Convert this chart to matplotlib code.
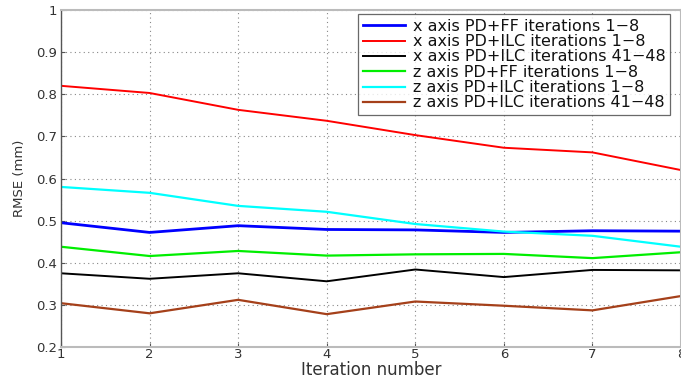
import matplotlib
matplotlib.use("Agg")
import matplotlib.pyplot as plt

plt.rcParams['font.family'] = ['DejaVu Sans']

iterations = [1, 2, 3, 4, 5, 6, 7, 8]

x_pdff_1_8 = [0.495, 0.472, 0.488, 0.479, 0.478, 0.472, 0.476, 0.475]
x_pdilc_1_8 = [0.820, 0.803, 0.763, 0.737, 0.703, 0.673, 0.662, 0.620]
x_pdilc_41_48 = [0.375, 0.362, 0.375, 0.356, 0.384, 0.366, 0.383, 0.382]
z_pdff_1_8 = [0.438, 0.416, 0.428, 0.417, 0.420, 0.421, 0.411, 0.425]
z_pdilc_1_8 = [0.580, 0.566, 0.535, 0.521, 0.492, 0.474, 0.464, 0.438]
z_pdilc_41_48 = [0.304, 0.280, 0.312, 0.278, 0.308, 0.298, 0.287, 0.321]

series = [
    ("x axis PD+FF iterations 1\u22128", x_pdff_1_8, "#0000ff", 2.0),
    ("x axis PD+ILC iterations 1\u22128", x_pdilc_1_8, "#ff0000", 1.4),
    ("x axis PD+ILC iterations 41\u221248", x_pdilc_41_48, "#000000", 1.4),
    ("z axis PD+FF iterations 1\u22128", z_pdff_1_8, "#00ee00", 1.6),
    ("z axis PD+ILC iterations 1\u22128", z_pdilc_1_8, "#00ffff", 1.6),
    ("z axis PD+ILC iterations 41\u221248", z_pdilc_41_48, "#a5401a", 1.6),
]

y_ticks = [0.2, 0.3, 0.4, 0.5, 0.6, 0.7, 0.8, 0.9, 1.0]
y_tick_labels = ["0.2", "0.3", "0.4", "0.5", "0.6", "0.7", "0.8", "0.9", "1"]

fig = plt.figure(figsize=(6.81, 3.80), dpi=100)
ax = fig.add_axes([0.0896, 0.0868, 0.9104, 0.8869])

for label, vals, color, lw in series:
    ax.plot(iterations, vals, color=color, lw=lw, label=label)

ax.set_xlim(1, 8)
ax.set_ylim(0.2, 1.0)
ax.set_xticks(iterations)
ax.set_yticks(y_ticks)
ax.set_yticklabels(y_tick_labels)
ax.grid(True, linestyle=(0, (1, 3)), color="#888888", lw=0.8)

text_color = "#333333"
ax.tick_params(direction="in", length=3, colors="#555555", labelcolor=text_color,
               labelsize=9.5)
ax.tick_params(axis="x", pad=1)
ax.tick_params(axis="y", pad=3)
ax.spines["left"].set_color("#555555")
ax.spines["left"].set_linewidth(1.0)
for side in ("top", "bottom", "right"):
    ax.spines[side].set_color("#bbbbbb")
    ax.spines[side].set_linewidth(1.5)

ax.set_xlabel("Iteration number", fontsize=12, color=text_color, labelpad=0)
ax.set_ylabel("RMSE (mm)", fontsize=9.5, color=text_color, labelpad=7)

leg = ax.legend(loc="upper right", bbox_to_anchor=(0.9875, 0.9975),
                prop={"size": 11.5},
                frameon=True, fancybox=False, edgecolor="#444444",
                handlelength=2.6, handletextpad=0.5, labelspacing=0.02,
                borderpad=0.3, borderaxespad=0.2)
leg.get_frame().set_linewidth(0.9)
for txt in leg.get_texts():
    txt.set_color("#111111")

fig.savefig("out.png", dpi=100)
